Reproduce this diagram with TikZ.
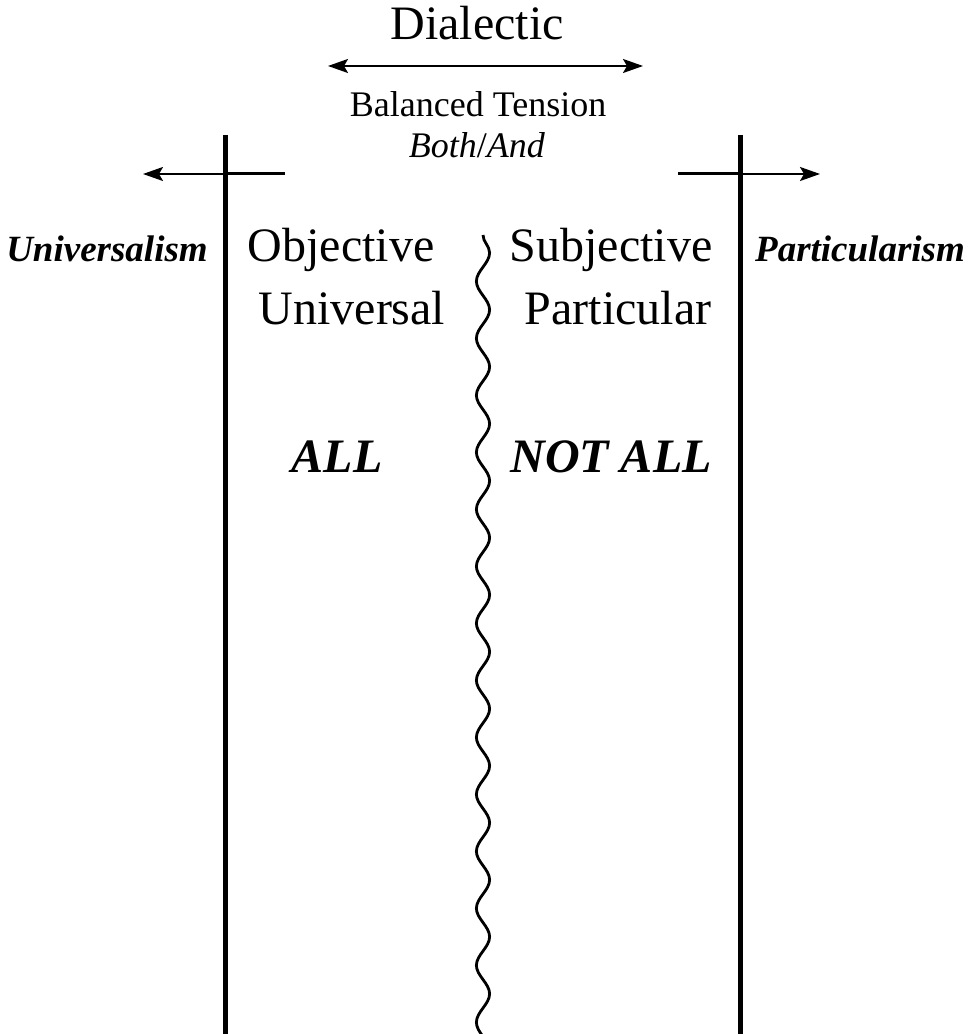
\documentclass[tikz,border=0pt]{standalone}
\usepackage{fontspec}
\setmainfont{Liberation Serif}
\usetikzlibrary{arrows.meta,decorations.pathmorphing}
\tikzset{
  bigText/.style={anchor=base,inner sep=0pt,font=\fontsize{24}{28}\selectfont},
  midText/.style={anchor=base,inner sep=0pt,font=\fontsize{18}{22}\selectfont},
  sideLabel/.style={anchor=base,inner sep=0pt,font=\fontsize{18.5}{22}\selectfont\bfseries\itshape},
  allLabel/.style={anchor=base,inner sep=0pt,font=\fontsize{24}{28}\selectfont\bfseries\itshape},
  bar/.style={line width=2.5pt},
  tick/.style={line width=1.5pt},
  pointer/.style={line width=1pt,-{Stealth[length=10pt,width=7pt,inset=2pt]}},
  waveLine/.style={line width=1.4pt,decorate,decoration={snake,amplitude=3.3pt,segment length=28.5pt}}
}
\begin{document}
\begin{tikzpicture}[x=0.5pt,y=0.5pt]
  \useasboundingbox (0,0) rectangle (975,1034);
  % top labels
  \node[bigText] (Dia) at (477,994) {Dialectic};
  \node[midText] (Bal) at (478,917) {Balanced Tension};
  \node[midText] (Both) at (477,876) {\textit{Both}/\textit{And}};
  \coordinate (DL) at (328,968);
  \coordinate (DR) at (643,968);
  \draw[line width=1pt,{Stealth[length=10pt,width=7pt,inset=2pt]}-{Stealth[length=10pt,width=7pt,inset=2pt]}] (DL) -- (DR);
  % the two walls
  \coordinate (UT) at (225,899);
  \coordinate (UB) at (225,0);
  \coordinate (PT) at (740,899);
  \coordinate (PB) at (740,0);
  \draw[bar] (UT) -- (UB);
  \draw[bar] (PT) -- (PB);
  \coordinate (UM) at (225,860);
  \coordinate (PM) at (740,860);
  \coordinate (UIn) at (285,860);
  \coordinate (UOut) at (143,860);
  \coordinate (PIn) at (678,860);
  \coordinate (POut) at (820,860);
  \draw[tick] (UM) -- (UIn);
  \draw[tick] (PIn) -- (PM);
  \draw[pointer] (UM) -- (UOut);
  \draw[pointer] (PM) -- (POut);
  % side labels
  \node[sideLabel] (Univ) at (107,772) {Universalism};
  \node[sideLabel] (Part) at (860,772) {Particularism};
  % inner labels
  \node[bigText] (Obj) at (341,772) {Objective};
  \node[bigText] (Uni) at (352,709) {Universal};
  \node[bigText] (Sub) at (611,772) {Subjective};
  \node[bigText] (Par) at (618,709) {Particular};
  \node[allLabel] (All) at (337,561) {ALL};
  \node[allLabel] (NotAll) at (611,561) {NOT ALL};
  % wavy divide, cut off at the lower edge
  \coordinate (WT) at (483,799);
  \coordinate (WB) at (483,-60);
  \begin{scope}
    \clip (0,0) rectangle (975,1034);
    \draw[waveLine] (WT) -- (WB);
  \end{scope}
\end{tikzpicture}
\end{document}
